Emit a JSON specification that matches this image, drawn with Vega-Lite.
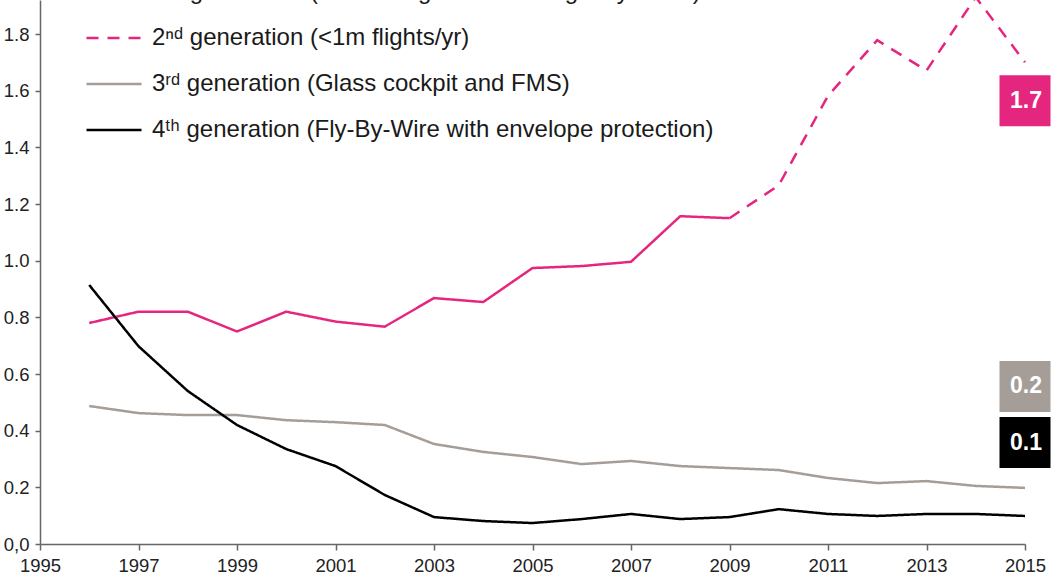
{
  "$schema": "https://vega.github.io/schema/vega-lite/v6.json",
  "width": 985,
  "height": 544,
  "autosize": {"type": "none"},
  "padding": {"left": 40, "top": 0, "right": 26, "bottom": 31},
  "background": "white",
  "config": {
    "view": {"stroke": null},
    "font": "Liberation Sans",
    "axis": {
      "grid": false,
      "domainColor": "#666666",
      "domainWidth": 1.5,
      "tickColor": "#666666",
      "tickWidth": 1.5,
      "labelFont": "Liberation Sans",
      "labelFontSize": 18.5,
      "labelColor": "#222222",
      "title": null
    }
  },
  "datasets": {
    "series": [
      {"year": 1996, "gen": "2ⁿᵈ generation (more integrated auto-flight systems)", "v": 0.78},
      {"year": 1997, "gen": "2ⁿᵈ generation (more integrated auto-flight systems)", "v": 0.82},
      {"year": 1998, "gen": "2ⁿᵈ generation (more integrated auto-flight systems)", "v": 0.82},
      {"year": 1999, "gen": "2ⁿᵈ generation (more integrated auto-flight systems)", "v": 0.75},
      {"year": 2000, "gen": "2ⁿᵈ generation (more integrated auto-flight systems)", "v": 0.82},
      {"year": 2001, "gen": "2ⁿᵈ generation (more integrated auto-flight systems)", "v": 0.785},
      {"year": 2002, "gen": "2ⁿᵈ generation (more integrated auto-flight systems)", "v": 0.767},
      {"year": 2003, "gen": "2ⁿᵈ generation (more integrated auto-flight systems)", "v": 0.868},
      {"year": 2004, "gen": "2ⁿᵈ generation (more integrated auto-flight systems)", "v": 0.854},
      {"year": 2005, "gen": "2ⁿᵈ generation (more integrated auto-flight systems)", "v": 0.974},
      {"year": 2006, "gen": "2ⁿᵈ generation (more integrated auto-flight systems)", "v": 0.981},
      {"year": 2007, "gen": "2ⁿᵈ generation (more integrated auto-flight systems)", "v": 0.996},
      {"year": 2008, "gen": "2ⁿᵈ generation (more integrated auto-flight systems)", "v": 1.157},
      {"year": 2009, "gen": "2ⁿᵈ generation (more integrated auto-flight systems)", "v": 1.15},
      {"year": 2009, "gen": "2ⁿᵈ generation (<1m flights/yr)", "v": 1.15},
      {"year": 2010, "gen": "2ⁿᵈ generation (<1m flights/yr)", "v": 1.266},
      {"year": 2011, "gen": "2ⁿᵈ generation (<1m flights/yr)", "v": 1.582},
      {"year": 2012, "gen": "2ⁿᵈ generation (<1m flights/yr)", "v": 1.778},
      {"year": 2013, "gen": "2ⁿᵈ generation (<1m flights/yr)", "v": 1.671},
      {"year": 2014, "gen": "2ⁿᵈ generation (<1m flights/yr)", "v": 1.93},
      {"year": 2015, "gen": "2ⁿᵈ generation (<1m flights/yr)", "v": 1.70},
      {"year": 1996, "gen": "3ʳᵈ generation (Glass cockpit and FMS)", "v": 0.487},
      {"year": 1997, "gen": "3ʳᵈ generation (Glass cockpit and FMS)", "v": 0.462},
      {"year": 1998, "gen": "3ʳᵈ generation (Glass cockpit and FMS)", "v": 0.455},
      {"year": 1999, "gen": "3ʳᵈ generation (Glass cockpit and FMS)", "v": 0.455},
      {"year": 2000, "gen": "3ʳᵈ generation (Glass cockpit and FMS)", "v": 0.437},
      {"year": 2001, "gen": "3ʳᵈ generation (Glass cockpit and FMS)", "v": 0.43},
      {"year": 2002, "gen": "3ʳᵈ generation (Glass cockpit and FMS)", "v": 0.42},
      {"year": 2003, "gen": "3ʳᵈ generation (Glass cockpit and FMS)", "v": 0.353},
      {"year": 2004, "gen": "3ʳᵈ generation (Glass cockpit and FMS)", "v": 0.325},
      {"year": 2005, "gen": "3ʳᵈ generation (Glass cockpit and FMS)", "v": 0.307},
      {"year": 2006, "gen": "3ʳᵈ generation (Glass cockpit and FMS)", "v": 0.282},
      {"year": 2007, "gen": "3ʳᵈ generation (Glass cockpit and FMS)", "v": 0.293},
      {"year": 2008, "gen": "3ʳᵈ generation (Glass cockpit and FMS)", "v": 0.275},
      {"year": 2009, "gen": "3ʳᵈ generation (Glass cockpit and FMS)", "v": 0.268},
      {"year": 2010, "gen": "3ʳᵈ generation (Glass cockpit and FMS)", "v": 0.261},
      {"year": 2011, "gen": "3ʳᵈ generation (Glass cockpit and FMS)", "v": 0.233},
      {"year": 2012, "gen": "3ʳᵈ generation (Glass cockpit and FMS)", "v": 0.215},
      {"year": 2013, "gen": "3ʳᵈ generation (Glass cockpit and FMS)", "v": 0.222},
      {"year": 2014, "gen": "3ʳᵈ generation (Glass cockpit and FMS)", "v": 0.205},
      {"year": 2015, "gen": "3ʳᵈ generation (Glass cockpit and FMS)", "v": 0.198},
      {"year": 1996, "gen": "4ᵗʰ generation (Fly-By-Wire with envelope protection)", "v": 0.914},
      {"year": 1997, "gen": "4ᵗʰ generation (Fly-By-Wire with envelope protection)", "v": 0.698},
      {"year": 1998, "gen": "4ᵗʰ generation (Fly-By-Wire with envelope protection)", "v": 0.54},
      {"year": 1999, "gen": "4ᵗʰ generation (Fly-By-Wire with envelope protection)", "v": 0.42},
      {"year": 2000, "gen": "4ᵗʰ generation (Fly-By-Wire with envelope protection)", "v": 0.335},
      {"year": 2001, "gen": "4ᵗʰ generation (Fly-By-Wire with envelope protection)", "v": 0.275},
      {"year": 2002, "gen": "4ᵗʰ generation (Fly-By-Wire with envelope protection)", "v": 0.173},
      {"year": 2003, "gen": "4ᵗʰ generation (Fly-By-Wire with envelope protection)", "v": 0.095},
      {"year": 2004, "gen": "4ᵗʰ generation (Fly-By-Wire with envelope protection)", "v": 0.081},
      {"year": 2005, "gen": "4ᵗʰ generation (Fly-By-Wire with envelope protection)", "v": 0.074},
      {"year": 2006, "gen": "4ᵗʰ generation (Fly-By-Wire with envelope protection)", "v": 0.088},
      {"year": 2007, "gen": "4ᵗʰ generation (Fly-By-Wire with envelope protection)", "v": 0.106},
      {"year": 2008, "gen": "4ᵗʰ generation (Fly-By-Wire with envelope protection)", "v": 0.088},
      {"year": 2009, "gen": "4ᵗʰ generation (Fly-By-Wire with envelope protection)", "v": 0.095},
      {"year": 2010, "gen": "4ᵗʰ generation (Fly-By-Wire with envelope protection)", "v": 0.123},
      {"year": 2011, "gen": "4ᵗʰ generation (Fly-By-Wire with envelope protection)", "v": 0.106},
      {"year": 2012, "gen": "4ᵗʰ generation (Fly-By-Wire with envelope protection)", "v": 0.099},
      {"year": 2013, "gen": "4ᵗʰ generation (Fly-By-Wire with envelope protection)", "v": 0.106},
      {"year": 2014, "gen": "4ᵗʰ generation (Fly-By-Wire with envelope protection)", "v": 0.106},
      {"year": 2015, "gen": "4ᵗʰ generation (Fly-By-Wire with envelope protection)", "v": 0.099}
    ],
    "tags": [
      {"gen": "2ⁿᵈ generation (<1m flights/yr)", "label": "1.7", "pos": 1.564},
      {"gen": "3ʳᵈ generation (Glass cockpit and FMS)", "label": "0.2", "pos": 0.556},
      {"gen": "4ᵗʰ generation (Fly-By-Wire with envelope protection)", "label": "0.1", "pos": 0.358}
    ]
  },
  "layer": [
    {
      "data": {"name": "series"},
      "mark": {"type": "line", "strokeWidth": 2.5},
      "encoding": {
        "x": {
          "field": "year",
          "type": "quantitative",
          "scale": {"domain": [1995, 2015], "nice": false, "zero": false},
          "axis": {
            "values": [1995, 1997, 1999, 2001, 2003, 2005, 2007, 2009, 2011, 2013, 2015],
            "format": "d",
            "tickSize": 6,
            "labelPadding": 6,
            "labelFlush": false
          }
        },
        "y": {
          "field": "v",
          "type": "quantitative",
          "scale": {"domain": [0, 1.92], "nice": false},
          "axis": {
            "values": [0, 0.2, 0.4, 0.6, 0.8, 1.0, 1.2, 1.4, 1.6, 1.8],
            "labelExpr": "datum.value == 0 ? '0,0' : format(datum.value, '.1f')",
            "tickSize": 5,
            "labelPadding": 6,
            "labelFlush": false
          }
        },
        "color": {
          "field": "gen",
          "type": "nominal",
          "scale": {
            "domain": [
              "2ⁿᵈ generation (more integrated auto-flight systems)",
              "2ⁿᵈ generation (<1m flights/yr)",
              "3ʳᵈ generation (Glass cockpit and FMS)",
              "4ᵗʰ generation (Fly-By-Wire with envelope protection)"
            ],
            "range": ["#e5267f", "#e5267f", "#a59d98", "#000000"]
          },
          "legend": {
            "title": null,
            "orient": "none",
            "legendX": 45,
            "legendY": -37,
            "padding": 0,
            "symbolType": "stroke",
            "symbolSize": 3025,
            "symbolStrokeWidth": 2.5,
            "labelFont": "Liberation Sans",
            "labelFontSize": 24,
            "labelColor": "#1a1a1a",
            "labelOffset": 9,
            "labelLimit": 0,
            "rowPadding": 5
          }
        },
        "strokeDash": {
          "field": "gen",
          "type": "nominal",
          "scale": {
            "domain": [
              "2ⁿᵈ generation (more integrated auto-flight systems)",
              "2ⁿᵈ generation (<1m flights/yr)",
              "3ʳᵈ generation (Glass cockpit and FMS)",
              "4ᵗʰ generation (Fly-By-Wire with envelope protection)"
            ],
            "range": [[1, 0], [12, 9], [1, 0], [1, 0]]
          }
        }
      }
    },
    {
      "data": {"name": "tags"},
      "mark": {"type": "square", "size": 2601, "opacity": 1, "filled": true},
      "encoding": {
        "x": {"datum": 2015, "type": "quantitative"},
        "y": {"field": "pos", "type": "quantitative"},
        "color": {"field": "gen", "type": "nominal", "legend": null}
      }
    },
    {
      "data": {"name": "tags"},
      "mark": {"type": "text", "color": "white", "fontSize": 23, "fontWeight": "bold", "font": "Liberation Sans", "baseline": "middle", "align": "center", "dx": 1},
      "encoding": {
        "x": {"datum": 2015, "type": "quantitative"},
        "y": {"field": "pos", "type": "quantitative"},
        "text": {"field": "label"}
      }
    }
  ]
}
